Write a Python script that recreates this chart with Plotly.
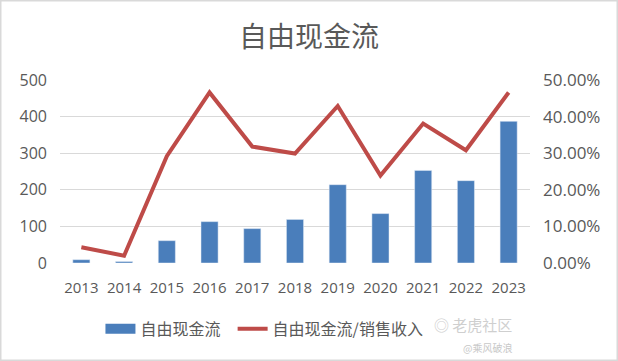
import plotly.graph_objects as go

years = ["2013", "2014", "2015", "2016", "2017", "2018", "2019", "2020", "2021", "2022", "2023"]
fcf = [9, 4, 61, 113, 94, 119, 214, 135, 253, 225, 387]
fcf_ratio = [0.043, 0.020, 0.292, 0.466, 0.318, 0.299, 0.429, 0.239, 0.381, 0.308, 0.466]

grey = "#595959"
blue = "#4A7EBB"
red = "#BE4B48"
fig = go.Figure()
fig.add_trace(go.Bar(x=years, y=fcf, name="自由现金流", marker_color=blue,
                     width=0.4, yaxis="y", showlegend=False))
fig.add_trace(go.Scatter(x=[None], y=[None], name="自由现金流  ", mode="lines",
                         line=dict(color=blue, width=10), yaxis="y", legendrank=1))
fig.add_trace(go.Scatter(x=years, y=fcf_ratio, name="自由现金流/销售收入", mode="lines",
                         line=dict(color=red, width=4), yaxis="y2", legendrank=2))

fig.update_layout(
    width=618, height=361,
    margin=dict(l=60, r=88, t=80, b=98),
    paper_bgcolor="white", plot_bgcolor="white",
    title=dict(text="自由现金流", x=0.5, xanchor="center", y=0.897, yanchor="middle",
               font=dict(family="Noto Sans CJK SC", size=28, color=grey)),
    font=dict(family="Open Sans, Noto Sans CJK SC", color=grey),
    xaxis=dict(tickfont=dict(size=15, color=grey), showgrid=False, showline=False,
               ticks="", tickangle=0, ticklabelstandoff=14),
    yaxis=dict(range=[0, 500], dtick=100, gridcolor="#D9D9D9", gridwidth=1,
               tickfont=dict(size=16, color=grey), zeroline=False, ticks="",
               ticklabelstandoff=12),
    yaxis2=dict(range=[0, 0.5], dtick=0.1, tickformat=".2%", overlaying="y", side="right",
                showgrid=False, tickfont=dict(size=17, color=grey), zeroline=False, ticks="",
                ticklabelstandoff=12),
    legend=dict(orientation="h", x=0.435, xanchor="center", y=-0.36, yanchor="middle",
                font=dict(family="Noto Sans CJK SC", size=16, color=grey),
                bgcolor="rgba(0,0,0,0)", traceorder="normal"),
    bargap=0.6,
    showlegend=True,
)
fig.add_shape(type="rect", xref="paper", yref="paper", x0=-60/470, x1=1+88/470,
              y0=-98/183, y1=1+80/183, line=dict(color="#D9D9D9", width=3))
fig.add_annotation(text="◎ 老虎社区", xref="paper", yref="paper", x=(514-60)/470, xanchor="right",
                   y=-(324-263)/183, yanchor="middle",
                   showarrow=False, font=dict(family="Noto Sans CJK SC", size=15, color="#CFCFCF"))
fig.add_annotation(text="@乘风破浪", xref="paper", yref="paper", x=(514-60)/470, xanchor="right",
                   y=-(347-263)/183, yanchor="middle",
                   showarrow=False, font=dict(family="Noto Sans CJK SC", size=10, color="#C8C8C8"))
fig.write_html("out.html", config={"displayModeBar": False},
               post_script="document.body.style.margin='0';document.body.style.overflow='hidden';")
